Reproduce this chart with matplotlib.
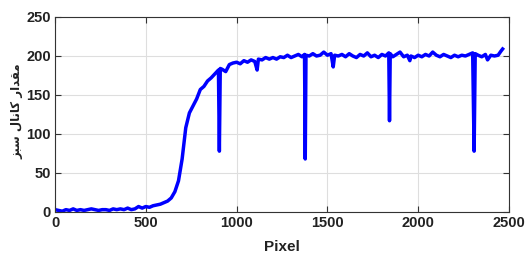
import matplotlib.pyplot as plt

# values
pixel = [0, 20, 40, 60, 80, 100, 120, 140, 160, 180, 200, 220, 240, 260, 280, 300, 320, 340,
         360, 380, 400, 420, 440, 460, 480, 500, 520, 540, 560, 580, 600, 620, 640, 660, 680,
         700, 720, 740, 760, 780, 800, 820, 840, 860, 880, 900, 905, 910, 920, 940, 960, 980,
         1000, 1020, 1040, 1060, 1080, 1100, 1113, 1120, 1140, 1160, 1180, 1200, 1220, 1240,
         1260, 1280, 1300, 1320, 1340, 1360, 1374, 1378, 1382, 1400, 1420, 1440, 1460, 1480,
         1500, 1520, 1532, 1540, 1560, 1580, 1600, 1620, 1640, 1660, 1680, 1700, 1720, 1740,
         1760, 1780, 1800, 1820, 1838, 1842, 1846, 1860, 1880, 1900, 1920, 1940, 1954, 1960,
         1980, 2000, 2020, 2040, 2060, 2080, 2100, 2120, 2140, 2160, 2180, 2200, 2220, 2240,
         2260, 2280, 2300, 2308, 2314, 2330, 2350, 2370, 2382, 2400, 2420, 2440, 2455, 2465]
green = [3, 2, 1, 3, 2, 4, 2, 3, 2, 3, 4, 3, 2, 3, 3, 2, 4, 3,
         4, 3, 5, 3, 4, 7, 5, 7, 6, 8, 9, 10, 12, 14, 18, 26, 40,
         68, 108, 127, 136, 145, 157, 161, 168, 172, 177, 182, 78, 184, 183, 180, 189, 191,
         192, 190, 194, 192, 195, 193, 182, 196, 195, 198, 196, 198, 196, 199,
         198, 201, 198, 200, 202, 199, 202, 68, 201, 200, 203, 200, 201, 205,
         201, 203, 186, 201, 200, 202, 199, 203, 200, 198, 202, 200, 204, 199,
         201, 198, 202, 200, 204, 117, 203, 199, 202, 205, 199, 201, 194, 200,
         198, 201, 199, 202, 200, 205, 201, 199, 202, 200, 198, 201, 199, 201,
         200, 202, 204, 78, 203, 201, 199, 202, 195, 201, 200, 201, 206, 209]

ylabel_fa = 'مقدار کانال سبز'
# pre-shaped (presentation forms), reversed for left-to-right drawing
ylabel_shaped = '\ufee3\ufed8\ufeaa\ufe8d\ufead \ufb90\ufe8e\ufee7\ufe8e\ufedd \ufeb3\ufe92\ufeb0'[::-1]

plt.rcParams['font.family'] = ['Liberation Sans', 'DejaVu Sans']

fig = plt.figure(figsize=(5.25, 2.56), dpi=100)
ax = fig.add_axes([0.1048, 0.1719, 0.8647, 0.7617])

ax.plot(pixel, green, color='#0000ff', linewidth=2.5)

ax.set_xlim(0, 2500)
ax.set_ylim(0, 250)
ax.set_xticks([0, 500, 1000, 1500, 2000, 2500])
ax.set_yticks([0, 50, 100, 150, 200, 250])
ax.grid(True, color='#dedede', linewidth=0.8)
ax.set_axisbelow(True)
ax.tick_params(direction='in', length=4, top=True, right=True, color='#333333',
               labelsize=10.5, pad=3)
for lab in ax.get_xticklabels() + ax.get_yticklabels():
    lab.set_fontweight('bold')
    lab.set_color('#222222')
for sp in ax.spines.values():
    sp.set_color('#333333')
    sp.set_linewidth(0.8)

ax.set_xlabel('Pixel', fontsize=11, fontweight='bold', color='#222222', labelpad=7)
fig.text(0.033, 0.565, ylabel_shaped, rotation=90, fontsize=8.5, fontweight='bold',
         family=['DejaVu Sans'], ha='center', va='center', color='#222222')

fig.savefig('out.png', dpi=100)
